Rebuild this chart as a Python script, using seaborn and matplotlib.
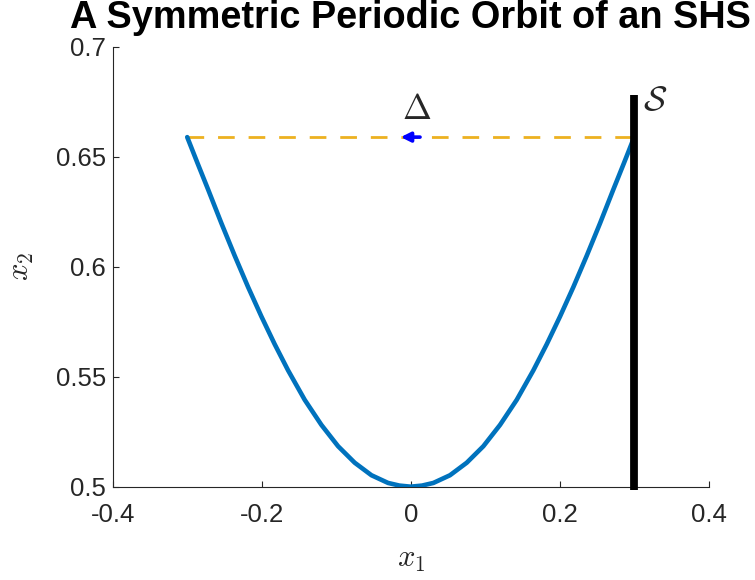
import matplotlib
matplotlib.use("Agg")
import matplotlib.pyplot as plt
import seaborn as sns
import pandas as pd

# Orbit points (x1, x2) of the symmetric periodic orbit
orbit_x1 = [-0.3000, -0.2860, -0.2720, -0.2541, -0.2362, -0.2183, -0.2004, -0.1826,
            -0.1646, -0.1423, -0.1199, -0.0975, -0.0752, -0.0527, -0.0304, -0.0152,
            0.0000,
            0.0152, 0.0304, 0.0527, 0.0752, 0.0975, 0.1199, 0.1423, 0.1646,
            0.1826, 0.2004, 0.2183, 0.2362, 0.2541, 0.2720, 0.2860, 0.3000]
orbit_x2 = [0.6590, 0.6470, 0.6352, 0.6198, 0.6050, 0.5908, 0.5774, 0.5648,
            0.5529, 0.5395, 0.5281, 0.5184, 0.5109, 0.5052, 0.5017, 0.5005,
            0.5000,
            0.5005, 0.5017, 0.5052, 0.5109, 0.5184, 0.5281, 0.5395, 0.5529,
            0.5648, 0.5774, 0.5908, 0.6050, 0.6198, 0.6352, 0.6470, 0.6590]

# Reset map: jump from the switching surface back to the start
reset_x1 = [-0.300, 0.300]
reset_x2 = [0.659, 0.659]

# Switching surface S at x1 = 0.3
surface_x1 = [0.300, 0.300]
surface_x2 = [0.4985, 0.6782]

x_ticks = [-0.4, -0.2, 0.0, 0.2, 0.4]
x_tick_labels = ["-0.4", "-0.2", "0", "0.2", "0.4"]
y_ticks = [0.5, 0.55, 0.6, 0.65, 0.7]
y_tick_labels = ["0.5", "0.55", "0.6", "0.65", "0.7"]

sns.set_theme(style="white")
plt.rcParams["font.family"] = ["Liberation Sans", "DejaVu Sans"]
plt.rcParams["mathtext.fontset"] = "cm"

fig = plt.figure(figsize=(7.55, 5.8), dpi=100)
ax = fig.add_axes([0.1493, 0.1609, 0.7894, 0.7581])

orbit = pd.DataFrame({"x1": orbit_x1, "x2": orbit_x2})
reset = pd.DataFrame({"x1": reset_x1, "x2": reset_x2})

sns.lineplot(data=reset, x="x1", y="x2", ax=ax, color="#EDB120", linewidth=2.0,
             linestyle=(0, (6, 5)), sort=False, zorder=2)
sns.lineplot(data=orbit, x="x1", y="x2", ax=ax, color="#0072BD", linewidth=3.3,
             sort=False, zorder=3)
ax.plot(surface_x1, surface_x2, color="black", linewidth=5.6, solid_capstyle="butt",
        clip_on=False, zorder=4)

ax.annotate("", xy=(-0.0134, 0.659), xytext=(0.0125, 0.659),
            arrowprops=dict(arrowstyle="-|>", color="blue", lw=2.6,
                            mutation_scale=14, shrinkA=0, shrinkB=0), zorder=5)

ax.text(0.008, 0.6714, r"$\Delta$", fontsize=25, ha="center", va="center")
ax.text(0.328, 0.6755, r"$\mathcal{S}$", fontsize=25, ha="center", va="center")

ax.set_xlim(-0.4, 0.4)
ax.set_ylim(0.5, 0.7)
ax.set_xticks(x_ticks)
ax.set_xticklabels(x_tick_labels)
ax.set_yticks(y_ticks)
ax.set_yticklabels(y_tick_labels)

for side in ("top", "right"):
    ax.spines[side].set_visible(False)
for side in ("left", "bottom"):
    ax.spines[side].set_color("#262626")
    ax.spines[side].set_linewidth(0.8)

ax.tick_params(bottom=True, left=True, direction="in", length=4.5, width=0.8,
               color="#262626", labelcolor="#262626", labelsize=18.5, pad=5)
ax.tick_params(axis="x", pad=12)

ax.set_xlabel(r"$x_1$", fontsize=22, color="#262626", labelpad=12)
ax.set_ylabel(r"$x_2$", fontsize=22, color="#262626", labelpad=14)

fig.text(0.544, 1 - 28 / 580, "A Symmetric Periodic Orbit of an SHS",
         fontsize=27.3, fontweight="bold", ha="center", va="baseline", color="black")

fig.savefig("out.png", dpi=100, facecolor="white")
